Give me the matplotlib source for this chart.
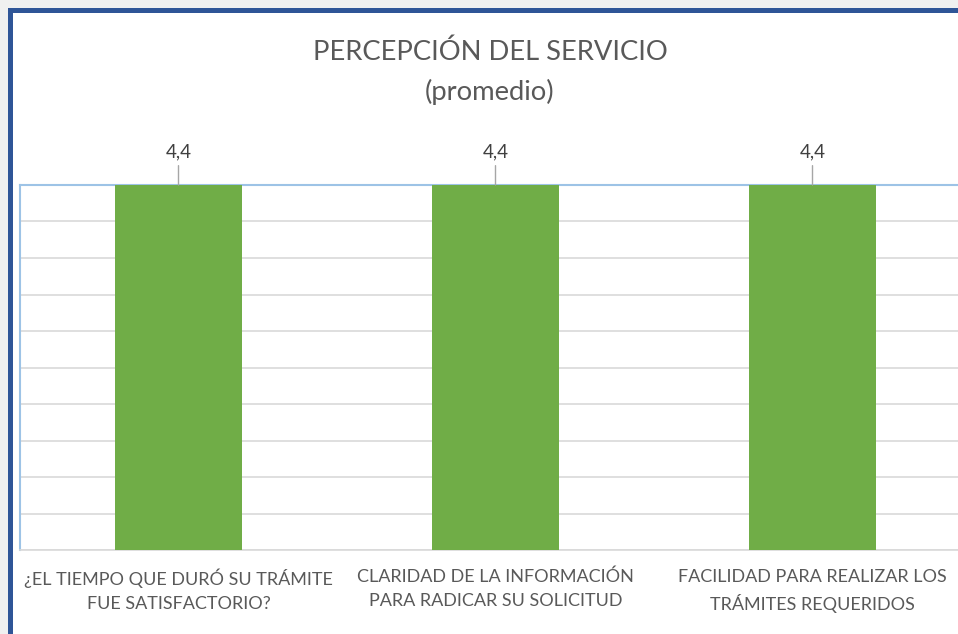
import matplotlib
matplotlib.use("Agg")
import matplotlib.pyplot as plt
from matplotlib.patches import Rectangle
import numpy as np

categories = ["¿EL TIEMPO QUE DURÓ SU TRÁMITE\nFUE SATISFACTORIO?",
              "CLARIDAD DE LA INFORMACIÓN\nPARA RADICAR SU SOLICITUD",
              "FACILIDAD PARA REALIZAR LOS\nTRÁMITES REQUERIDOS"]
values = [4.4, 4.4, 4.4]
value_labels = ["4,4", "4,4", "4,4"]
title = "PERCEPCIÓN DEL SERVICIO\n(promedio)"

plt.rcParams['font.family'] = ['Lato', 'DejaVu Sans']

W, H = 958, 634
fig = plt.figure(figsize=(W/100, H/100), dpi=100)
fig.patch.set_facecolor('#f0f0f0')

# white chart area with blue frame
fig.add_artist(Rectangle((8/W, 0), 1, 1 - 8/H, transform=fig.transFigure,
                         facecolor='white', edgecolor='none', zorder=0))
fig.add_artist(Rectangle((8/W, 0), 5/W, 1 - 8/H, transform=fig.transFigure,
                         facecolor='#2f5597', edgecolor='none', zorder=1))
fig.add_artist(Rectangle((8/W, 1 - 13/H), 1, 5/H, transform=fig.transFigure,
                         facecolor='#2f5597', edgecolor='none', zorder=1))

left, right, top, bottom = 20, 971, 185, 550
ax = fig.add_axes([left/W, 1 - bottom/H, (right-left)/W, (bottom-top)/H])
ax.set_facecolor('white')
x = np.arange(len(categories))
ax.bar(x, values, width=0.4, color='#70ad47', zorder=3)
ax.set_xlim(-0.5, len(categories) - 0.5)
ax.set_ylim(0, 4.4)
ax.set_yticks(np.linspace(0, 4.4, 11))
ax.yaxis.grid(True, color='#d9d9d9', linewidth=1.2, zorder=0)
ax.tick_params(axis='y', left=False, labelleft=False)
ax.tick_params(axis='x', bottom=False, pad=10)
ax.set_xticks(x)
ax.set_xticklabels(categories, fontsize=13, color='#595959', linespacing=1.6)
for lbl in ax.get_xticklabels():
    lbl.set_verticalalignment('top')
for s in ['left', 'top']:
    ax.spines[s].set_color('#9dc3e6')
    ax.spines[s].set_linewidth(1.5)
ax.spines['right'].set_visible(False)
ax.spines['bottom'].set_color('#d9d9d9')
ax.spines['bottom'].set_linewidth(1.2)

for xi, v, lab in zip(x, values, value_labels):
    ax.annotate(lab, xy=(xi, v), xytext=(xi, v + 0.3), ha='center', va='bottom',
                fontsize=13.5, color='#404040', annotation_clip=False,
                arrowprops=dict(arrowstyle='-', color='#a6a6a6', lw=1,
                                shrinkA=2, shrinkB=0))

fig.text(490/W, 1 - 72/H, title, ha='center', va='center', fontsize=19.7,
         color='#595959', linespacing=1.65)

fig.savefig('out.png', dpi=100, facecolor=fig.get_facecolor())
